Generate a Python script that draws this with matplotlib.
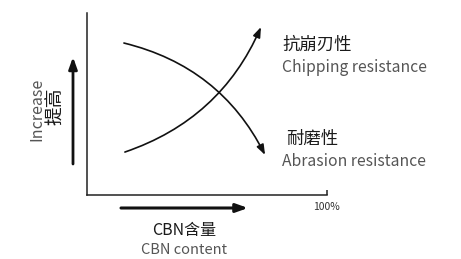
import matplotlib
matplotlib.use("Agg")
import matplotlib.pyplot as plt

plt.rcParams["font.family"] = ["Noto Sans CJK SC", "DejaVu Sans"]

# conceptual curves: CBN content (%) vs property level (%), start and end points
chip_x = [16.0, 72.7]
chip_y = [23.6, 92.3]
abra_x = [15.6, 74.4]
abra_y = [83.5, 22.0]

x_ticks = [100]
x_tick_labels = ["100%"]

W, H = 461, 259
fig = plt.figure(figsize=(W / 100, H / 100), dpi=100)

# axes box placed in pixel terms: left 86.5, right 326.5, top 13, bottom 195
ax = fig.add_axes([86.5 / W, (H - 195) / H, 240 / W, 182 / H])
ax.set_xlim(0, 100)
ax.set_ylim(0, 100)
for side in ["top", "right"]:
    ax.spines[side].set_visible(False)
for side in ["left", "bottom"]:
    ax.spines[side].set_linewidth(1.1)
    ax.spines[side].set_color("#222222")
ax.set_yticks([])
ax.set_xticks(x_ticks)
ax.set_xticklabels(x_tick_labels)
ax.tick_params(axis="x", direction="in", length=3.6, width=1.1, color="#222222",
               pad=5, labelsize=7.5, labelcolor="#333333")

dark = "#111111"
ax.annotate("", xy=(chip_x[1], chip_y[1]), xytext=(chip_x[0], chip_y[0]),
            arrowprops=dict(arrowstyle="-|>,head_length=0.6,head_width=0.22",
                            connectionstyle="arc3,rad=0.22", lw=1.2, color=dark,
                            shrinkA=0, shrinkB=0))
ax.annotate("", xy=(abra_x[1], abra_y[1]), xytext=(abra_x[0], abra_y[0]),
            arrowprops=dict(arrowstyle="-|>,head_length=0.6,head_width=0.22",
                            connectionstyle="arc3,rad=-0.23", lw=1.2, color=dark,
                            shrinkA=0, shrinkB=0))


def fp(px, py):
    return (px, H - py)


# vertical "increase" arrow and horizontal "content" arrow
ax.annotate("", xy=fp(73, 57), xytext=fp(73, 164), xycoords="figure pixels",
            textcoords="figure pixels",
            arrowprops=dict(arrowstyle="-|>,head_length=0.7,head_width=0.25",
                            lw=2.0, color=dark, shrinkA=0, shrinkB=0))
ax.annotate("", xy=fp(248, 208), xytext=fp(121, 208), xycoords="figure pixels",
            textcoords="figure pixels",
            arrowprops=dict(arrowstyle="-|>,head_length=0.7,head_width=0.25",
                            lw=2.2, color=dark, shrinkA=0, shrinkB=0))

cn = "#1a1a1a"
en = "#555555"


def label(px, py, s, **kw):
    fig.text(px / W, 1 - py / H, s, **kw)


label(37, 109, "Increase", rotation=90, ha="center", va="center", fontsize=11.5, color=en)
label(55, 106, "提高", rotation=90, ha="center", va="center", fontsize=13.5,
      color=cn, fontweight="medium")

label(282, 44.5, "抗崩刃性", ha="left", va="center", fontsize=12.5, color=cn, fontweight="medium")
label(282, 68, "Chipping resistance", ha="left", va="center", fontsize=11.3, color=en)
label(286, 138.5, "耐磨性", ha="left", va="center", fontsize=12.5, color=cn, fontweight="medium")
label(282, 161, "Abrasion resistance", ha="left", va="center", fontsize=11.3, color=en)

label(184, 231, "CBN含量", ha="center", va="center", fontsize=11.5, color=cn, fontweight="medium")
label(184, 254.5, "CBN content", ha="center", va="baseline", fontsize=10.5, color=en)

fig.savefig("out.png", dpi=100)
